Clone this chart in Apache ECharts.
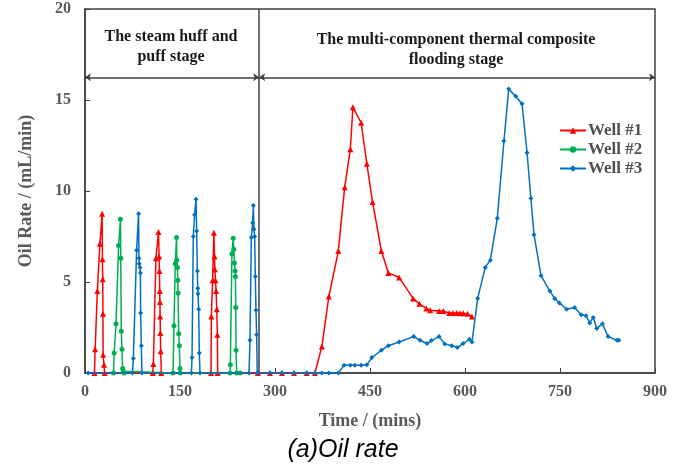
<!DOCTYPE html>
<html>
<head>
<meta charset="utf-8">
<script src="https://cdn.jsdelivr.net/npm/echarts@6/dist/echarts.min.js"></script>
<style>
  html, body { margin: 0; padding: 0; background: #fff; }
  #main { width: 683px; height: 468px; }
</style>
</head>
<body>
<div id="main"></div>
<script>
// Well #1 (red)
var well1Time = [15, 16, 19.5, 23.5, 27, 27.5, 28, 28.3, 28.6, 30, 31,
  107, 108, 112, 116, 117, 117.5, 118, 118.3, 118.6, 119, 119.5, 120.5,
  199, 199.5, 201.5, 203.5, 204.5, 205, 206, 207, 208, 209, 209.5,
  273, 292, 311, 330, 350, 363, 374, 385, 400, 410, 419, 423, 436, 445, 454,
  468, 479, 496, 518, 528, 539, 545, 559, 566, 575, 581, 587, 592, 597, 604, 611];
var well1Rate = [0, 1.3, 4.5, 7.1, 8.75, 6.25, 5.15, 3.25, 1.0, 0.45, 0,
  0, 0.5, 6.3, 7.75, 6.4, 5.6, 4.5, 3.9, 3.1, 2.2, 1.2, 0,
  0, 3.1, 5.1, 7.7, 6.4, 5.7, 5.1, 4.5, 3.5, 2.1, 0,
  0, 0, 0, 0, 0, 0, 1.45, 4.2, 6.7, 10.2, 12.3, 14.6, 13.75, 11.5, 9.4,
  6.7, 5.5, 5.25, 4.1, 3.8, 3.55, 3.45, 3.4, 3.4, 3.3, 3.3, 3.3, 3.28, 3.28, 3.25, 3.1];

// Well #2 (green)
var well2Time = [45, 46, 49, 53, 56, 56.5, 57.3, 58.4, 59.4, 60.5, 62,
  139, 140.5, 142.5, 144.5, 145, 146, 146.5, 147, 148, 149, 150, 150.5,
  229, 229.5, 232, 234, 235, 236, 237, 237.5, 238, 238.5, 239.5, 245];
var well2Rate = [0, 1.1, 2.7, 7.0, 8.45, 6.3, 2.3, 1.3, 0.25, 0.1, 0,
  0, 2.6, 6.0, 7.45, 6.2, 5.8, 5.1, 4.4, 2.15, 1.5, 0.25, 0,
  0, 0.45, 6.55, 7.4, 6.8, 6.05, 5.6, 5.3, 3.6, 1.25, 0, 0];

// Well #3 (blue)
var well3Time = [5, 75, 76.3, 81.5, 84.6, 85.2, 85.7, 86.8, 87.5, 87.8, 88.9, 90,
  168, 169, 171, 173, 175.3, 176.3, 177.4, 178, 178.4, 179.5, 180.5, 181.6,
  259, 260.5, 262.6, 264.7, 265.8, 266.8, 267.9, 268.9, 270, 271, 272,
  292, 311, 330, 350, 363, 374, 385, 400, 409, 419, 426, 436, 445, 453, 468, 479,
  496, 519, 529, 540, 547, 559, 568, 579, 588, 597, 607, 611, 620, 632, 640, 651,
  661.5, 669, 680, 690, 698, 704, 709, 720, 734, 741.5, 749, 760.5, 773, 783.5,
  791, 797, 802.5, 808, 817, 826, 840, 843];
var well3Rate = [0, 0, 0.8, 6.75, 8.75, 6.3, 6.0, 5.8, 5.5, 3.3, 1.5, 0,
  0, 0.85, 7.5, 8.7, 9.55, 7.8, 5.6, 4.65, 4.35, 3.5, 1.1, 0,
  0, 1.8, 7.45, 8.25, 9.2, 7.9, 7.5, 5.3, 3.45, 2.1, 0,
  0, 0, 0, 0, 0, 0, 0, 0, 0.42, 0.42, 0.42, 0.42, 0.45, 0.85, 1.25, 1.5,
  1.7, 2.0, 1.8, 1.62, 1.78, 2.0, 1.6, 1.5, 1.4, 1.62, 1.85, 1.7, 4.1, 5.8, 6.2, 8.5,
  12.75, 15.6, 15.2, 14.8, 12.1, 9.6, 7.6, 5.35, 4.5, 4.1, 3.85, 3.5, 3.6, 3.2,
  3.15, 2.75, 3.05, 2.45, 2.7, 2.0, 1.8, 1.8];

var xTicks = { min: 0, max: 900, interval: 150 };
var yTicks = { min: 0, max: 20, interval: 5 };
var stageSplit = 275;
var arrowLevel = 16.25;

function zip(t, v) {
  return t.map(function (x, i) { return [x, v[i]]; });
}

var chart = echarts.init(document.getElementById('main'));
var serif = 'Liberation Serif';
var axisColor = '#404040';

var option = {
  animation: false,
  textStyle: { fontFamily: serif },
  grid: {
    left: 85, right: 28, top: 9, bottom: 95,
    show: true, borderColor: axisColor, borderWidth: 1.5
  },
  legend: {
    orient: 'vertical',
    left: 554, top: 117,
    itemGap: 2,
    itemWidth: 26, itemHeight: 8,
    textStyle: { fontFamily: serif, fontWeight: 'bold', fontSize: 17, color: '#505050', padding: [0, 0, 0, -3] },
    data: ['Well #1', 'Well #2', 'Well #3']
  },
  xAxis: {
    type: 'value',
    min: xTicks.min, max: xTicks.max, interval: xTicks.interval,
    name: 'Time / (mins)',
    nameLocation: 'middle',
    nameGap: 39,
    nameTextStyle: { fontFamily: serif, fontWeight: 'bold', fontSize: 18, color: '#595959' },
    axisLine: { lineStyle: { color: axisColor, width: 1.5 } },
    axisTick: { inside: true, length: 5, lineStyle: { color: axisColor } },
    axisLabel: { fontFamily: serif, fontWeight: 'bold', fontSize: 16, color: '#595959', margin: 11 },
    splitLine: { show: false }
  },
  yAxis: {
    type: 'value',
    min: yTicks.min, max: yTicks.max, interval: yTicks.interval,
    name: 'Oil Rate / (mL/min)',
    nameLocation: 'middle',
    nameGap: 50,
    nameTextStyle: { fontFamily: serif, fontWeight: 'bold', fontSize: 18, color: '#595959' },
    axisLine: { lineStyle: { color: axisColor, width: 1.5 } },
    axisTick: { inside: true, length: 5, lineStyle: { color: axisColor } },
    axisLabel: { fontFamily: serif, fontWeight: 'bold', fontSize: 16, color: '#595959', margin: 14 },
    splitLine: { show: false }
  },
  series: [
    {
      name: 'Well #1', type: 'line',
      data: zip(well1Time, well1Rate),
      symbol: 'triangle', symbolSize: 6,
      itemStyle: { color: '#ff0000' },
      lineStyle: { width: 1.5, color: '#ff0000' },
      z: 3
    },
    {
      name: 'Well #2', type: 'line',
      data: zip(well2Time, well2Rate),
      symbol: 'circle', symbolSize: 5,
      itemStyle: { color: '#00b050' },
      lineStyle: { width: 1.5, color: '#00b050' },
      z: 4
    },
    {
      name: 'Well #3', type: 'line',
      data: zip(well3Time, well3Rate),
      symbol: 'diamond', symbolSize: 5,
      itemStyle: { color: '#0070c0' },
      lineStyle: { width: 1.5, color: '#0070c0' },
      z: 5,
      markLine: {
        silent: true,
        animation: false,
        label: { show: false },
        lineStyle: { color: axisColor, width: 1.5, type: 'solid' },
        data: [
          [{ coord: [stageSplit, 0], symbol: 'none' }, { coord: [stageSplit, 20], symbol: 'none' }],
          [{ coord: [0, arrowLevel], symbol: 'arrow', symbolSize: 6 }, { coord: [stageSplit, arrowLevel], symbol: 'arrow', symbolSize: 6 }],
          [{ coord: [stageSplit, arrowLevel], symbol: 'arrow', symbolSize: 6 }, { coord: [900, arrowLevel], symbol: 'arrow', symbolSize: 6 }]
        ]
      }
    }
  ],
  graphic: [
    {
      type: 'text',
      x: 171, y: 46.5,
      style: {
        text: 'The steam huff and\npuff stage',
        font: 'bold 16px "Liberation Serif"',
        fill: '#1a1a1a', align: 'center', verticalAlign: 'middle', lineHeight: 20
      }
    },
    {
      type: 'text',
      x: 456, y: 50,
      style: {
        text: 'The multi-component thermal composite\nflooding stage',
        font: 'bold 16px "Liberation Serif"',
        fill: '#1a1a1a', align: 'center', verticalAlign: 'middle', lineHeight: 20
      }
    },
    {
      type: 'text',
      x: 343, y: 450,
      style: {
        text: '(a)Oil rate',
        font: 'italic 25px "Liberation Sans"',
        fill: '#000', align: 'center', verticalAlign: 'middle'
      }
    }
  ]
};

chart.setOption(option);
</script>
</body>
</html>
